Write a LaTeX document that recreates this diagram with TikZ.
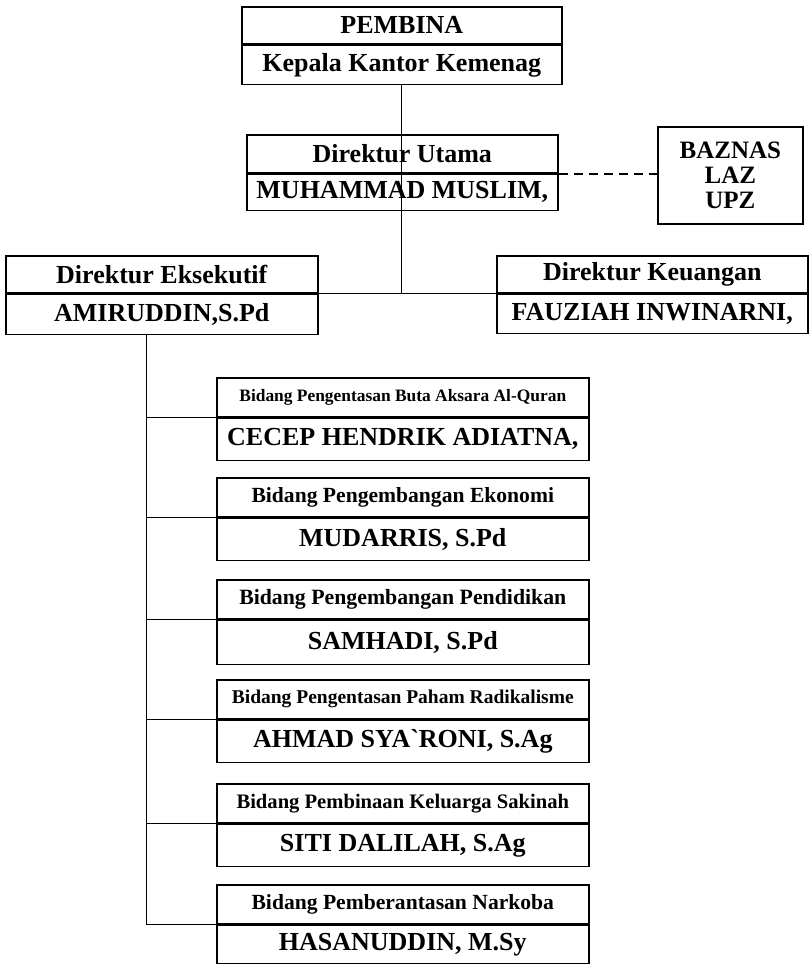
\documentclass[tikz,border=0pt]{standalone}
\usepackage{fontspec}
\setmainfont{Liberation Serif}
\usetikzlibrary{positioning}
\tikzset{
  orgbox/.style = {rectangle, draw, line width=1.6pt, inner sep=0pt, align=center,
                   font=\bfseries\fontsize{26}{30}\selectfont},
  bidtitle/.style = {orgbox, anchor=north west, minimum width=372pt, minimum height=39pt},
  bidname/.style = {orgbox, minimum width=372pt, minimum height=42pt},
  orgline/.style = {line width=1.3pt},
  orgdash/.style = {line width=1.9pt, dash pattern=on 9pt off 6pt}
}

\begin{document}
\begin{tikzpicture}[x=1pt, y=-1pt]
\useasboundingbox (0,0) rectangle (809,965);
% pimpinan
\node[orgbox, anchor=north west, minimum width=320pt, minimum height=37pt] (pembina) at (241,6) {PEMBINA};
\node[orgbox, below=0pt of pembina, minimum width=320pt, minimum height=39pt] (kakan) {Kepala Kantor Kemenag};
\node[orgbox, anchor=north west, minimum width=311pt, minimum height=38pt] (utama) at (246,134) {Direktur Utama};
\node[orgbox, below=0pt of utama, minimum width=311pt, minimum height=36pt] (utamaName) {MUHAMMAD MUSLIM,};
\node[orgbox, anchor=north west, minimum width=145pt, minimum height=97pt,
      font=\bfseries\fontsize{25}{25}\selectfont] (baznas) at (657,126) {BAZNAS\\LAZ\\UPZ};
\node[orgbox, anchor=north west, minimum width=312pt, minimum height=37pt] (eksekutif) at (5,255) {Direktur Eksekutif};
\node[orgbox, below=0pt of eksekutif, minimum width=312pt, minimum height=40pt] (eksName) {AMIRUDDIN,S.Pd};
\node[orgbox, anchor=north west, minimum width=311pt, minimum height=37pt] (keuangan) at (496,255) {Direktur Keuangan};
\node[orgbox, below=0pt of keuangan, minimum width=311pt, minimum height=39pt] (keuName) {FAUZIAH INWINARNI,};

% bidang
\node[bidtitle, font=\bfseries\fontsize{17.4}{20}\selectfont] (bid1) at (216,377) {Bidang Pengentasan Buta Aksara Al-Quran};
\node[bidname, below=0pt of bid1] (bid1Name) {CECEP HENDRIK ADIATNA,};
\node[bidtitle, font=\bfseries\fontsize{21.6}{24}\selectfont] (bid2) at (216,477) {Bidang Pengembangan Ekonomi};
\node[bidname, below=0pt of bid2] (bid2Name) {MUDARRIS, S.Pd};
\node[bidtitle, font=\bfseries\fontsize{21.8}{24}\selectfont] (bid3) at (216,579) {Bidang Pengembangan Pendidikan};
\node[bidname, below=0pt of bid3, minimum height=44pt] (bid3Name) {SAMHADI, S.Pd};
\node[bidtitle, font=\bfseries\fontsize{19.5}{22}\selectfont] (bid4) at (216,679) {Bidang Pengentasan Paham Radikalisme};
\node[bidname, below=0pt of bid4] (bid4Name) {AHMAD SYA\textasciigrave RONI, S.Ag};
\node[bidtitle, font=\bfseries\fontsize{20.6}{23}\selectfont] (bid5) at (216,783) {Bidang Pembinaan Keluarga Sakinah};
\node[bidname, below=0pt of bid5] (bid5Name) {SITI DALILAH, S.Ag};
\node[bidtitle, font=\bfseries\fontsize{21.6}{24}\selectfont] (bid6) at (216,884) {Bidang Pemberantasan Narkoba};
\node[bidname, below=0pt of bid6, minimum height=38pt] (bid6Name) {HASANUDDIN, M.Sy};

% garis
\draw[orgline] (kakan.south) -- (kakan.south |- eksekutif.south);
\draw[orgline] (eksekutif.south east) -- (keuangan.south west);
\draw[orgdash] (utama.south east) -- (utama.south east -| baznas.west);
\coordinate (trunk) at ([xshift=-15pt]eksName.south);
\draw[orgline] (trunk) |- (bid6.south west);
\draw[orgline] (trunk |- bid1.south west) -- (bid1.south west);
\draw[orgline] (trunk |- bid2.south west) -- (bid2.south west);
\draw[orgline] (trunk |- bid3.south west) -- (bid3.south west);
\draw[orgline] (trunk |- bid4.south west) -- (bid4.south west);
\draw[orgline] (trunk |- bid5.south west) -- (bid5.south west);
\end{tikzpicture}
\end{document}
